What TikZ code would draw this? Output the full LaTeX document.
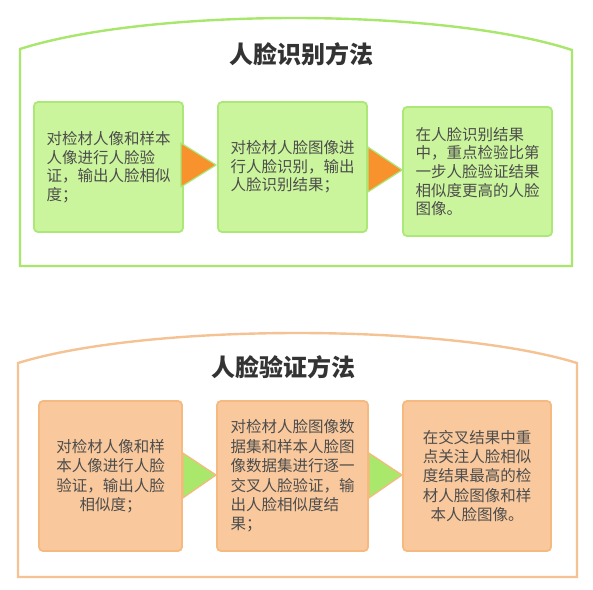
\documentclass[tikz,border=0pt]{standalone}
\usepackage{fontspec}
\newfontfamily\cjk{Noto Sans CJK SC}
\usetikzlibrary{calc}

\definecolor{panelgreen}{HTML}{A8E66C}
\definecolor{boxgreen}{HTML}{CBF59C}
\definecolor{edgegreen}{HTML}{ABE878}
\definecolor{panelorange}{HTML}{F5C393}
\definecolor{boxorange}{HTML}{F9C99D}
\definecolor{edgeorange}{HTML}{F6B97F}
\definecolor{triorange}{HTML}{F7922D}
\definecolor{trigreen}{HTML}{A9E86A}
\definecolor{textgray}{HTML}{4D4D4D}

\begin{document}
\begin{tikzpicture}[x=1pt,y=-1pt]
\tikzstyle{GBOX} = [rectangle, rounded corners=4pt, minimum width=149pt, minimum height=130pt, draw=edgegreen, line width=1.8pt, fill=boxgreen, text=textgray, font=\cjk\fontsize{15.5}{18.6}\selectfont, inner sep=0pt]
\tikzstyle{OBOX} = [rectangle, rounded corners=4pt, minimum height=150pt, draw=edgeorange, line width=1.8pt, fill=boxorange, text=textgray, font=\cjk\fontsize{15.5}{19.4}\selectfont, inner sep=0pt]
\tikzstyle{TITLE} = [font=\cjk\bfseries\fontsize{24}{28}\selectfont, text=black!80]
\tikzstyle{gtri} = [draw=edgegreen, line width=1.2pt, fill=triorange, line join=round]
\tikzstyle{otri} = [draw=edgeorange, line width=1.2pt, fill=trigreen, line join=round]

    \useasboundingbox (0,0) rectangle (593,589);

    % panels
    \draw [panelgreen, line width=2.4pt] (20,266) -- (20,49) .. controls (150,7.5) and (442,7.5) .. (572,50) -- (572,266) -- cycle;
    \draw [panelorange, line width=2.4pt] (18,577) -- (18,363) .. controls (148,323) and (447,323) .. (577,363) -- (577,577) -- cycle;

    \node (top) at (301,54) [TITLE] {人脸识别方法};
    \node (bottom) at (283,367) [TITLE] {人脸验证方法};

    % green steps
    \node (g1) at (108.5,167) [GBOX, align=left] {对检材人像和样本\\人像进行人脸验\\证，输出人脸相似\\度；};
    \node (g2) at (292.5,167) [GBOX, align=left] {对检材人脸图像进\\行人脸识别，输出\\人脸识别结果；};
    \node (g3) at (477.5,171.5) [GBOX, minimum height=129pt, align=left] {在人脸识别结果\\中，重点检验比第\\一步人脸验证结果\\相似度更高的人脸\\图像。};

    \draw [gtri] ($(g1.east)+(-3,-24)$) -- ($(g2.west)+(-1,-2)$) -- ($(g1.east)+(-3,20)$) -- cycle;
    \draw [gtri] ($(g2.east)+(0,-20)$) -- ($(g3.west)+(0,-1.5)$) -- ($(g2.east)+(0,25)$) -- cycle;

    % orange steps
    \node (o1) at (110.5,476) [OBOX, minimum width=143pt, align=center] {对检材人像和样\\本人像进行人脸\\验证，输出人脸\\相似度；};
    \node (o2) at (292.5,476) [OBOX, minimum width=151pt, align=left] {对检材人脸图像数\\据集和样本人脸图\\像数据集进行逐一\\交叉人脸验证，输\\出人脸相似度结\\果；};
    \node (o3) at (477,476) [OBOX, minimum width=148pt, align=center] {在交叉结果中重\\点关注人脸相似\\度结果最高的检\\材人脸图像和样\\本人脸图像。};

    \draw [otri] ($(o1.east)+(0,-23)$) -- ($(o2.west)+(0,-1)$) -- ($(o1.east)+(0,22)$) -- cycle;
    \draw [otri] ($(o2.east)+(0,-23)$) -- ($(o3.west)+(0,-1)$) -- ($(o2.east)+(0,22)$) -- cycle;
\end{tikzpicture}
\end{document}
